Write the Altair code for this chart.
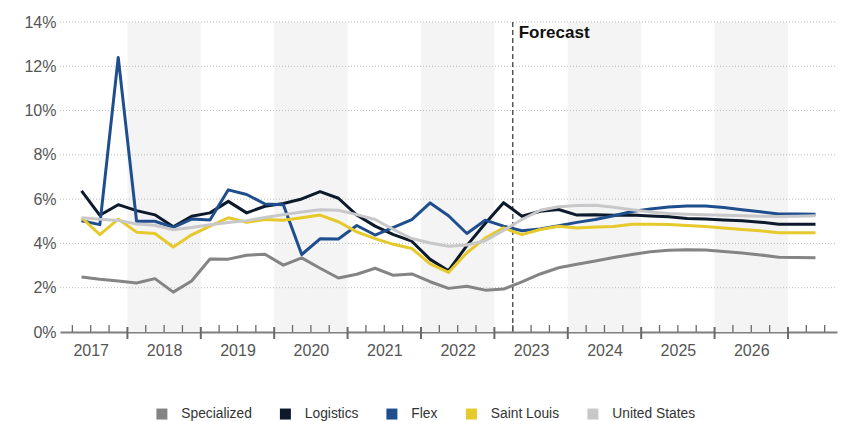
import altair as alt
import pandas as pd

# ---------------- data ----------------
series = ["Specialized", "Logistics", "Flex", "Saint Louis", "United States"]
colors = ["#848484", "#0c1a2c", "#1f4e8e", "#e6c92b", "#c8c8ca"]

# quarterly observations, 2017 Q2 .. 2027 Q2
quarters = [f"{y}Q{q}" for y in range(2017, 2028) for q in range(1, 5)][1:42]

specialized = [2.48, 2.38, 2.30, 2.21, 2.41, 1.80, 2.30, 3.30, 3.29, 3.47,
               3.51, 3.02, 3.35, 2.88, 2.44, 2.61, 2.88, 2.56, 2.62, 2.27,
               1.97, 2.07, 1.89, 1.94, 2.26, 2.62, 2.90, 3.06, 3.21, 3.36,
               3.50, 3.62, 3.69, 3.72, 3.70, 3.64, 3.57, 3.48, 3.38, 3.37, 3.35]
logistics = [6.37, 5.27, 5.75, 5.48, 5.29, 4.75, 5.23, 5.38, 5.90, 5.38,
             5.68, 5.80, 6.01, 6.34, 6.04, 5.28, 4.78, 4.40, 4.10, 3.28,
             2.77, 3.90, 4.90, 5.84, 5.23, 5.45, 5.53, 5.28, 5.30, 5.27,
             5.28, 5.24, 5.20, 5.13, 5.10, 5.06, 5.02, 4.96, 4.87, 4.87, 4.87]
flex = [5.02, 4.85, 12.40, 5.00, 5.00, 4.72, 5.10, 5.06, 6.42, 6.21,
        5.78, 5.75, 3.50, 4.21, 4.20, 4.81, 4.38, 4.72, 5.08, 5.83,
        5.25, 4.45, 5.05, 4.78, 4.57, 4.65, 4.80, 4.95, 5.08, 5.25,
        5.44, 5.55, 5.65, 5.69, 5.69, 5.62, 5.52, 5.43, 5.33, 5.33, 5.32]
saint_louis = [5.16, 4.40, 5.10, 4.51, 4.45, 3.84, 4.39, 4.78, 5.16, 4.96,
               5.08, 5.05, 5.16, 5.28, 4.98, 4.52, 4.22, 3.96, 3.77, 3.08,
               2.69, 3.58, 4.24, 4.70, 4.40, 4.63, 4.78, 4.70, 4.74, 4.76,
               4.87, 4.87, 4.86, 4.81, 4.76, 4.70, 4.63, 4.57, 4.48, 4.48, 4.48]
united_states = [5.16, 5.09, 5.04, 4.88, 4.82, 4.62, 4.72, 4.84, 4.95, 5.03,
                 5.17, 5.30, 5.42, 5.52, 5.50, 5.30, 5.08, 4.63, 4.22, 4.02,
                 3.87, 3.93, 4.12, 4.59, 5.08, 5.50, 5.66, 5.71, 5.72, 5.63,
                 5.52, 5.42, 5.35, 5.32, 5.30, 5.27, 5.25, 5.23, 5.22, 5.23, 5.25]

values = [specialized, logistics, flex, saint_louis, united_states]

year_labels = list(range(2017, 2027))
shaded_years = [2018, 2020, 2022, 2024, 2026]
y_ticks = [0, 2, 4, 6, 8, 10, 12, 14]
forecast_start = "2023Q2"
forecast_label = "Forecast"

# ---------------- build tables ----------------
def qpos(label):
    y, q = label.split("Q")
    return int(y) + (int(q) - 0.5) / 4.0

def qstart(label):
    y, q = label.split("Q")
    return int(y) + (int(q) - 1) / 4.0

rows = []
for s, vals in zip(series, values):
    for ql, v in zip(quarters, vals):
        rows.append({"series": s, "t": qpos(ql), "v": v})
df = pd.DataFrame(rows)

band_df = pd.DataFrame({"start": shaded_years, "end": [y + 1 for y in shaded_years]})
grid_df = pd.DataFrame({"v": y_ticks[1:]})
bounds = [qstart(q) for q in quarters] + [qpos(quarters[-1]) + 0.125]
minor_df = pd.DataFrame({"t": [b for b in bounds if b != int(b)]})
major_df = pd.DataFrame({"t": [float(y) for y in range(2018, 2028)]})
fc_df = pd.DataFrame({"t": [qstart(forecast_start)], "label": [forecast_label]})
legend_df = pd.DataFrame({"series": series})

# ---------------- chart ----------------
W, H = 777, 310
FONT = "Liberation Sans"
xs = alt.Scale(domain=[2017.0817, 2027.668], nice=False, zero=False)
ys = alt.Scale(domain=[0, 14], nice=False, zero=True)
cscale = alt.Scale(domain=series, range=colors)

xaxis = alt.Axis(values=[y + 0.5 for y in year_labels], labelExpr="'' + floor(datum.value)",
                 ticks=False, grid=False, domainColor="#7f7f7f", domainWidth=2,
                 labelFontSize=16, labelFont=FONT, labelColor="#555555",
                 labelPadding=10, title=None, labelFlush=False, labelOverlap=False)
yaxis = alt.Axis(values=y_ticks, labelExpr="datum.value + '%'", ticks=False, domain=False,
                 grid=False, labelFontSize=16, labelFont=FONT, labelColor="#555555",
                 labelPadding=4, title=None)

bands = alt.Chart(band_df).mark_rect(color="#f4f4f4").encode(
    x=alt.X("start:Q", scale=xs, axis=xaxis), x2="end:Q",
    y=alt.value(0), y2=alt.value(H))

grid = alt.Chart(grid_df).mark_rule(color="#bdbdbd", strokeDash=[1, 2], strokeWidth=1).encode(
    y=alt.Y("v:Q", scale=ys, axis=yaxis), x=alt.value(0), x2=alt.value(W))

minor = alt.Chart(minor_df).mark_rule(color="#6a6a6a", strokeWidth=1.3).encode(
    x=alt.X("t:Q", scale=xs), y=alt.value(H - 7), y2=alt.value(H))
major = alt.Chart(major_df).mark_rule(color="#6a6a6a", strokeWidth=2).encode(
    x=alt.X("t:Q", scale=xs), y=alt.value(H - 5), y2=alt.value(H + 7))

# legend carrier: filled squares placed off-canvas, they only feed the legend
legend_layer = alt.Chart(legend_df).mark_square(filled=True, opacity=1, size=121).encode(
    x=alt.value(-300), y=alt.value(-300),
    color=alt.Color(
        "series:N", scale=cscale,
        legend=alt.Legend(
            orient="none", legendX=95, legendY=385, direction="horizontal",
            title=None, symbolType="square", symbolSize=121, symbolStrokeWidth=0,
            symbolOpacity=1,
            labelFontSize=13.8, labelFont=FONT, labelColor="#333333",
            columnPadding=26.5, labelOffset=12.5,
        ),
    ),
)

line_layers = []
for s in series:
    line_layers.append(
        alt.Chart(df).transform_filter(alt.datum.series == s)
        .mark_line(strokeWidth=3, strokeJoin="round")
        .encode(x=alt.X("t:Q", scale=xs), y=alt.Y("v:Q", scale=ys),
                color=alt.Color("series:N", scale=cscale, legend=None))
    )

fc_rule = alt.Chart(fc_df).mark_rule(color="#555555", strokeDash=[5, 3], strokeWidth=1.5).encode(
    x=alt.X("t:Q", scale=xs), y=alt.value(0), y2=alt.value(H))
fc_text = alt.Chart(fc_df).mark_text(align="left", baseline="alphabetic", dx=6, fontSize=17,
                                     fontWeight="bold", font=FONT, color="#111111").encode(
    x=alt.X("t:Q", scale=xs), y=alt.value(16), text="label:N")

chart = alt.layer(bands, grid, minor, major, fc_rule, legend_layer, *line_layers, fc_text).properties(
    width=W, height=H,
    padding={"left": 60, "top": 22, "right": 20, "bottom": 89},
    autosize=alt.AutoSizeParams(type="none"),
).configure_view(stroke=None)

chart.save("out.html", embed_options={"renderer": "svg", "actions": False})
